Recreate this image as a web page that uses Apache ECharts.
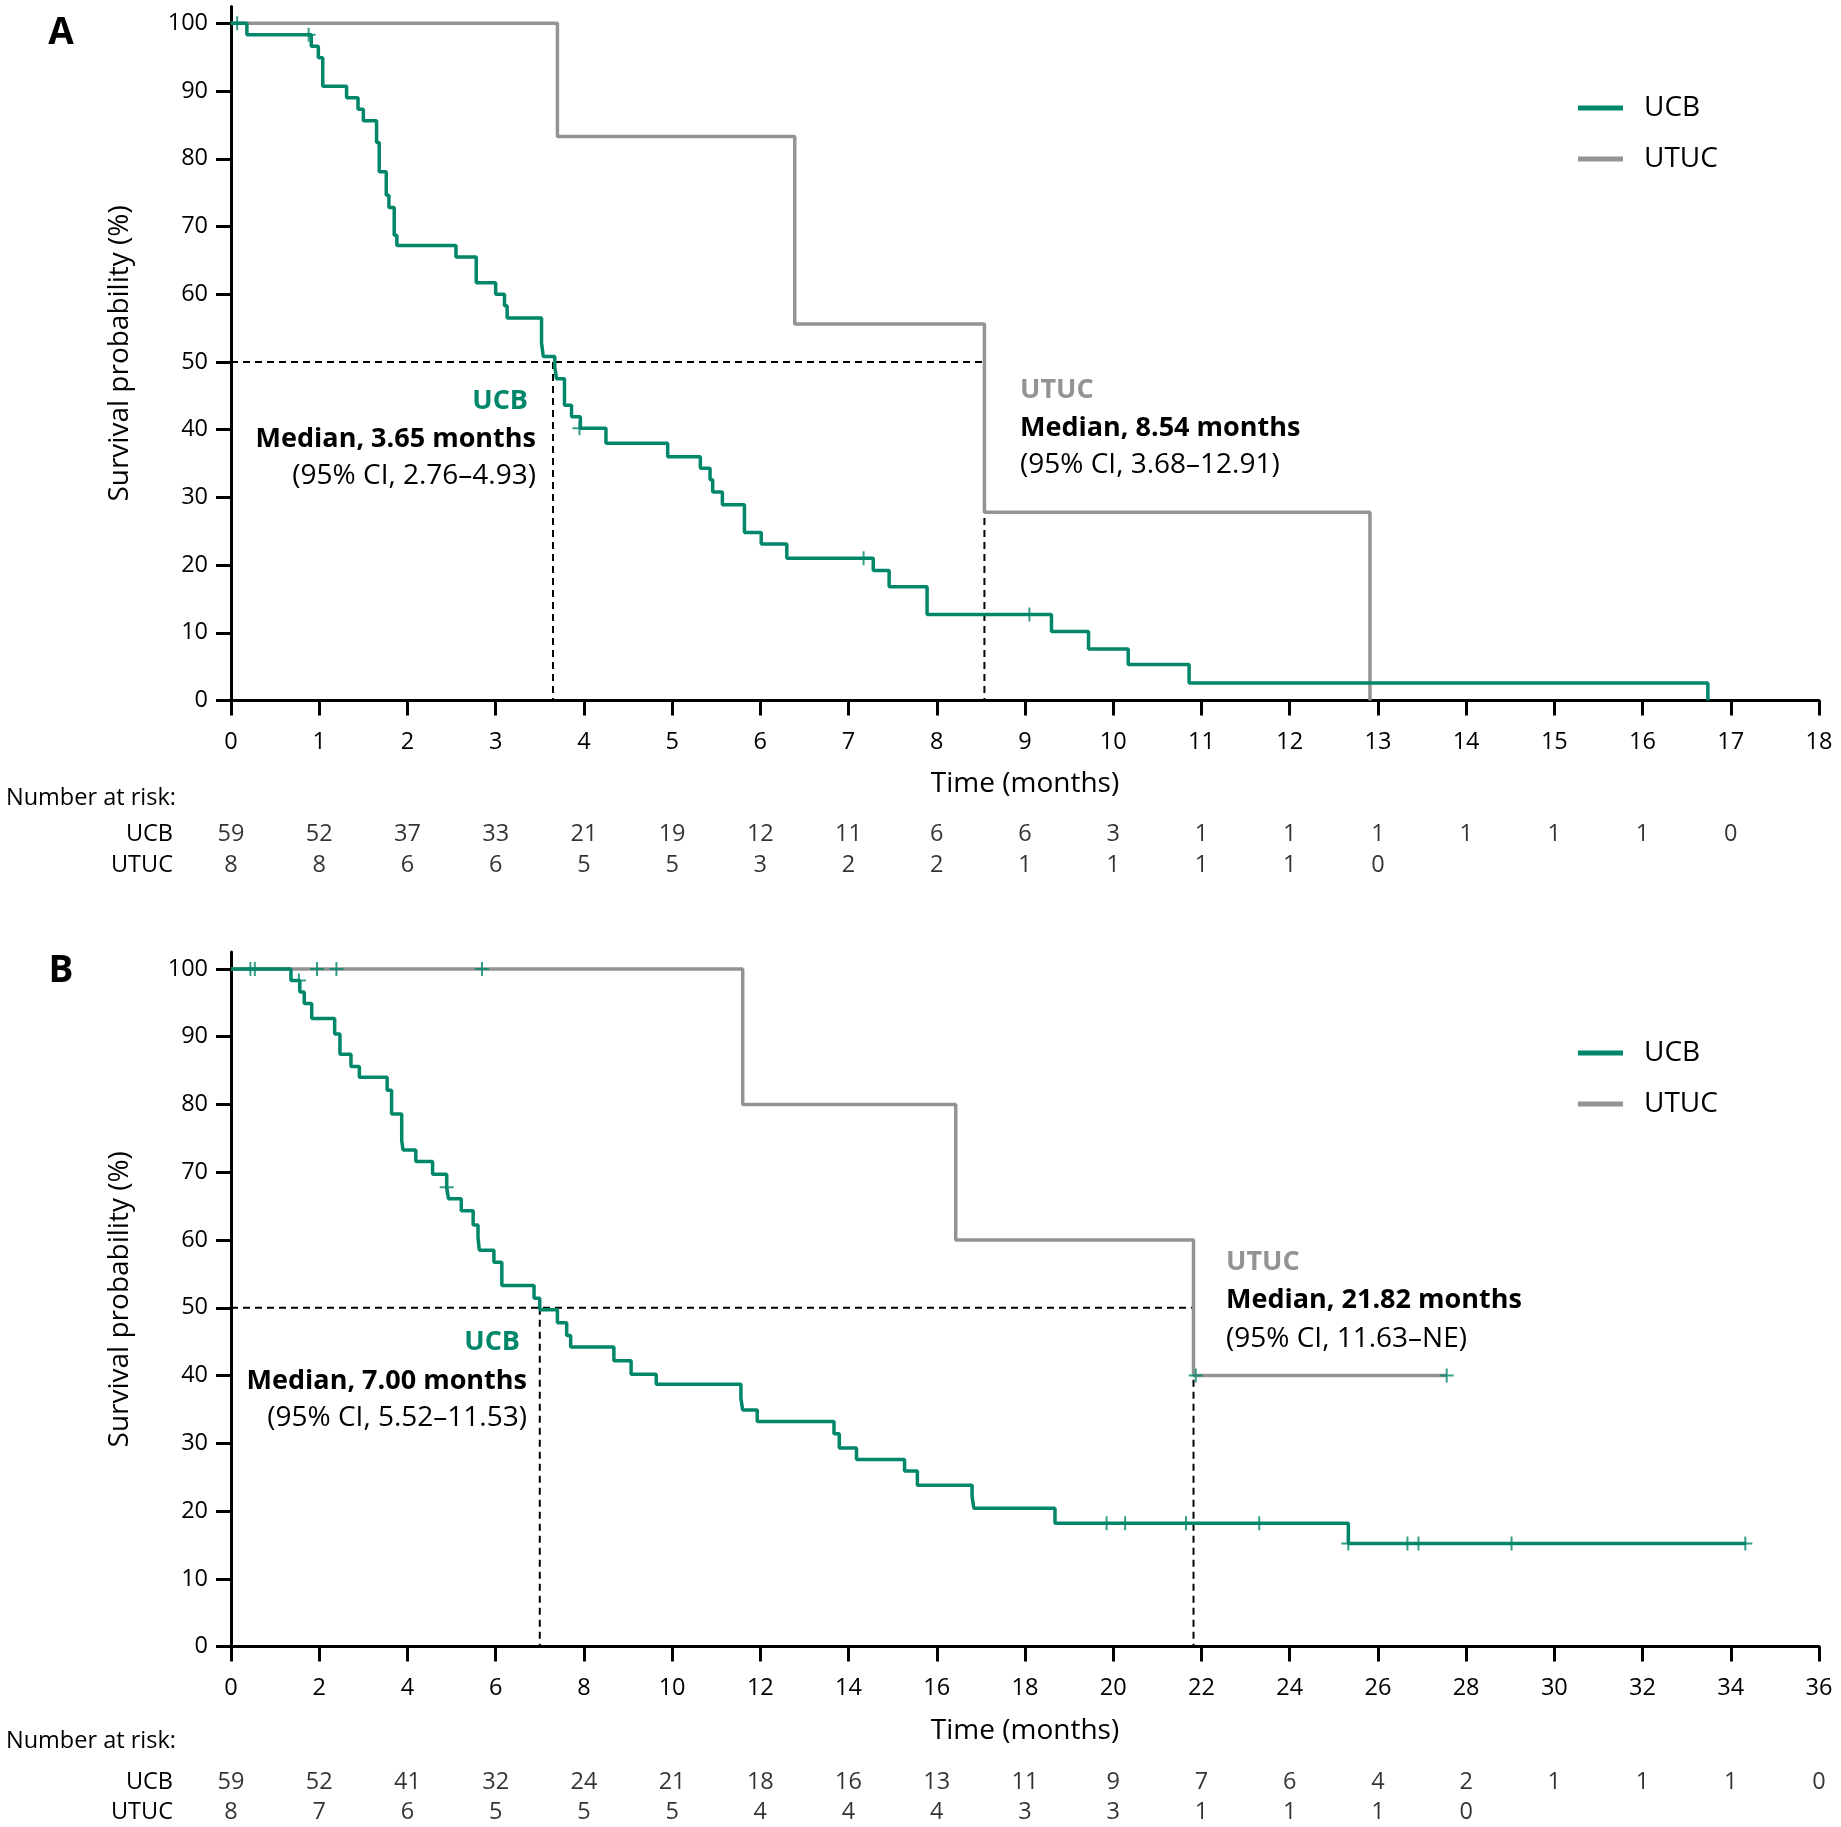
<!DOCTYPE html>
<html><head><meta charset="utf-8">
<script src="https://cdn.jsdelivr.net/npm/echarts@6/dist/echarts.min.js"></script>
<style>html,body{margin:0;padding:0;background:#fff}#c{width:1841px;height:1827px}</style>
</head><body><div id="c"></div>
<script>
// ---------- DATA ----------
// Panel A (time in months, survival %)
const ucbA = [[0,100],[0.18,98.3],[0.91,96.6],[0.99,94.9],[1.04,90.7],[1.31,89.0],[1.44,87.3],[1.50,85.6],[1.65,82.4],[1.68,78.1],[1.76,74.6],[1.79,72.8],[1.85,68.7],[1.88,67.2],[2.55,65.5],[2.78,61.7],[3.00,60.0],[3.10,58.3],[3.13,56.5],[3.52,52.8],[3.54,50.8],[3.67,49.2],[3.69,47.5],[3.78,43.6],[3.86,41.9],[3.96,40.2],[4.25,38.0],[4.95,36.0],[5.32,34.3],[5.43,32.6],[5.46,30.8],[5.57,28.9],[5.82,24.8],[6.01,23.1],[6.30,21.0],[7.28,19.2],[7.46,16.8],[7.89,12.7],[9.30,10.2],[9.72,7.6],[10.17,5.3],[10.86,2.6],[16.74,0]];
const utucA = [[0,100],[3.70,83.3],[6.39,55.6],[8.54,27.8],[12.91,0]];
const ucbCensorA = [[0.07,100],[0.88,98.3],[3.95,40.2],[7.17,21.0],[9.05,12.7]];
const medianUcbA = 3.65, medianUtucA = 8.54;
const riskMonthsA = [0,1,2,3,4,5,6,7,8,9,10,11,12,13,14,15,16,17];
const riskUcbA = [59,52,37,33,21,19,12,11,6,6,3,1,1,1,1,1,1,0];
const riskUtucA = [8,8,6,6,5,5,3,2,2,1,1,1,1,0];

// Panel B
const ucbB = [[0,100],[1.36,98.3],[1.56,96.6],[1.66,94.9],[1.83,92.7],[2.35,90.4],[2.47,87.4],[2.72,85.6],[2.91,84.0],[3.54,82.1],[3.64,78.6],[3.87,74.7],[3.90,73.3],[4.19,71.6],[4.57,69.7],[4.89,67.8],[4.93,66.1],[5.22,64.3],[5.49,62.2],[5.60,60.3],[5.63,58.5],[5.96,56.7],[6.14,53.3],[6.87,51.4],[7.00,49.7],[7.40,47.8],[7.61,45.9],[7.70,44.2],[8.68,42.2],[9.07,40.2],[9.64,38.7],[11.56,36.6],[11.60,34.9],[11.93,33.2],[13.67,31.4],[13.79,29.3],[14.18,27.6],[15.27,25.9],[15.56,23.8],[16.80,22.2],[16.84,20.4],[18.68,18.2],[25.33,15.2],[34.35,15.2]];
const utucB = [[0,100],[11.60,80],[16.43,60],[21.82,40],[27.56,40]];
const ucbCensorB = [[0.44,100],[0.54,100],[1.54,98.3],[4.89,67.8],[19.85,18.2],[20.27,18.2],[21.65,18.2],[23.31,18.2],[25.33,15.2],[26.67,15.2],[26.92,15.2],[29.03,15.2],[34.33,15.2]];
const utucCensorB = [[1.95,100],[2.39,100],[5.69,100],[21.87,40],[27.56,40]];
const medianUcbB = 7.00, medianUtucB = 21.82;
const riskMonthsB = [0,2,4,6,8,10,12,14,16,18,20,22,24,26,28,30,32,34,36];
const riskUcbB = [59,52,41,32,24,21,18,16,13,11,9,7,6,4,2,1,1,1,0];
const riskUtucB = [8,7,6,5,5,5,4,4,4,3,3,1,1,1,0];

const yTicks = [0,10,20,30,40,50,60,70,80,90,100];
const groups = ['UCB','UTUC'];

// ---------- STYLE ----------
const FONT = '"Open Sans", "Noto Sans", sans-serif';
const GREEN = '#00876a', GRAY = '#939393', BLACK = '#000';
const PLUS = 'path://M6,0H8V6H14V8H8V14H6V8H0V6H6Z';

function xAxisCfg(gi, max, interval, show) {
  return {
    type:'value', gridIndex:gi, min:0, max:max, interval:interval, show:show,
    name: show ? 'Time (months)' : '', nameLocation:'middle', nameGap:70,
    nameTextStyle:{fontSize:28, fontFamily:FONT, color:BLACK},
    axisLine:{show:true, onZero:false, lineStyle:{color:BLACK, width:3}},
    axisTick:{show:true, inside:false, length:15, lineStyle:{color:BLACK, width:3}},
    axisLabel:{fontSize:23.5, fontFamily:FONT, color:BLACK, margin:30},
    splitLine:{show:false}
  };
}
function yAxisCfg(gi) {
  return {
    type:'value', gridIndex:gi, min:0, max:102.5,
    name:'Survival probability (%)', nameLocation:'middle', nameGap:97,
    nameTextStyle:{fontSize:28, fontFamily:FONT, color:BLACK},
    axisLine:{show:true, lineStyle:{color:BLACK, width:3}},
    axisTick:{show:true, length:15, lineStyle:{color:BLACK, width:3}, customValues:yTicks},
    axisLabel:{fontSize:23.5, fontFamily:FONT, color:BLACK, margin:23, customValues:yTicks},
    splitLine:{show:false}
  };
}
function tableYAxis(gi) {
  return {
    type:'category', gridIndex:gi, data:groups, inverse:true,
    axisLine:{show:false}, axisTick:{show:false}, splitLine:{show:false},
    axisLabel:{fontSize:23.5, fontFamily:FONT, color:BLACK, margin:58, interval:0, hideOverlap:false}
  };
}
function dashed(xi, data) {
  return {type:'line', xAxisIndex:xi, yAxisIndex:xi, data:data, symbol:'none', silent:true, z:1,
    lineStyle:{color:BLACK, width:2, type:[7,5]}};
}
function km(xi, name, color, data) {
  return {type:'line', name:name, color:color, xAxisIndex:xi, yAxisIndex:xi, data:data, step:'end',
    symbol:'none', silent:true, z:3, lineStyle:{color:color, width:3.5}};
}
function censor(xi, data) {
  return {type:'scatter', xAxisIndex:xi, yAxisIndex:xi, data:data, symbol:PLUS, symbolSize:14,
    silent:true, z:5, itemStyle:{color:GREEN}};
}
function riskRow(xi, months, counts, group) {
  return {type:'scatter', xAxisIndex:xi, yAxisIndex:xi, symbolSize:1, silent:true,
    itemStyle:{color:'transparent'},
    data: counts.map((n,i)=>[months[i], group, n]),
    label:{show:true, position:'inside', formatter:p=>String(p.value[2]),
      fontSize:23.5, fontFamily:FONT, color:BLACK}};
}
function txt(text, x, y, align, font, fill) {
  return {type:'text', silent:true, style:{text:text, x:x, y:y, align:align, verticalAlign:'middle', font:font, fill:fill}};
}
const B27 = 'bold 27px ' + FONT, R28 = '28px ' + FONT;

const legendBase = {
  data:groups, orient:'vertical', left:1573, icon:'rect', itemWidth:45, itemHeight:5, itemGap:21,
  selectedMode:false,
  textStyle:{fontSize:28, fontFamily:FONT, color:BLACK, lineHeight:30, padding:[0,0,0,16]}
};

const option = {
  animation:false,
  grid:[
    {left:231, width:1588, top:6.4, height:694.1},
    {left:231, width:1588, top:952, height:694.6},
    {left:231, width:1588, top:819, height:62},
    {left:231, width:1588, top:1768, height:60}
  ],
  xAxis:[xAxisCfg(0,18,1,true), xAxisCfg(1,36,2,true), xAxisCfg(2,18,1,false), xAxisCfg(3,36,2,false)],
  yAxis:[yAxisCfg(0), yAxisCfg(1), tableYAxis(2), tableYAxis(3)],
  legend:[Object.assign({top:88}, legendBase), Object.assign({top:1033}, legendBase)],
  series:[
    dashed(0, [[0,50],[medianUtucA,50]]),
    dashed(0, [[medianUcbA,50],[medianUcbA,0]]),
    dashed(0, [[medianUtucA,50],[medianUtucA,0]]),
    km(0,'UTUC',GRAY,utucA),
    km(0,'UCB',GREEN,ucbA),
    censor(0, ucbCensorA),
    dashed(1, [[0,50],[medianUtucB,50]]),
    dashed(1, [[medianUcbB,50],[medianUcbB,0]]),
    dashed(1, [[medianUtucB,50],[medianUtucB,0]]),
    km(1,'UTUC',GRAY,utucB),
    km(1,'UCB',GREEN,ucbB),
    censor(1, ucbCensorB),
    censor(1, utucCensorB),
    riskRow(2, riskMonthsA, riskUcbA, 'UCB'),
    riskRow(2, riskMonthsA, riskUtucA, 'UTUC'),
    riskRow(3, riskMonthsB, riskUcbB, 'UCB'),
    riskRow(3, riskMonthsB, riskUtucB, 'UTUC')
  ],
  graphic:[
    txt('A', 61, 33, 'center', 'bold 37px ' + FONT, BLACK),
    txt('B', 61, 971, 'center', 'bold 37px ' + FONT, BLACK),
    txt('Number at risk:', 6, 798, 'left', '23.5px ' + FONT, BLACK),
    txt('Number at risk:', 6, 1741, 'left', '23.5px ' + FONT, BLACK),
    txt('UCB', 528, 401, 'right', B27, GREEN),
    txt('Median, 3.65 months', 536, 439, 'right', B27, BLACK),
    txt('(95% CI, 2.76–4.93)', 536, 476, 'right', R28, BLACK),
    txt('UTUC', 1020, 390, 'left', B27, GRAY),
    txt('Median, 8.54 months', 1020, 428, 'left', B27, BLACK),
    txt('(95% CI, 3.68–12.91)', 1020, 465, 'left', R28, BLACK),
    txt('UCB', 520, 1342, 'right', B27, GREEN),
    txt('Median, 7.00 months', 527, 1381, 'right', B27, BLACK),
    txt('(95% CI, 5.52–11.53)', 527, 1418, 'right', R28, BLACK),
    txt('UTUC', 1226, 1262, 'left', B27, GRAY),
    txt('Median, 21.82 months', 1226, 1300, 'left', B27, BLACK),
    txt('(95% CI, 11.63–NE)', 1226, 1339, 'left', R28, BLACK)
  ]
};
const chart = echarts.init(document.getElementById('c'), null, {renderer:'canvas'});
chart.setOption(option);
</script></body></html>
